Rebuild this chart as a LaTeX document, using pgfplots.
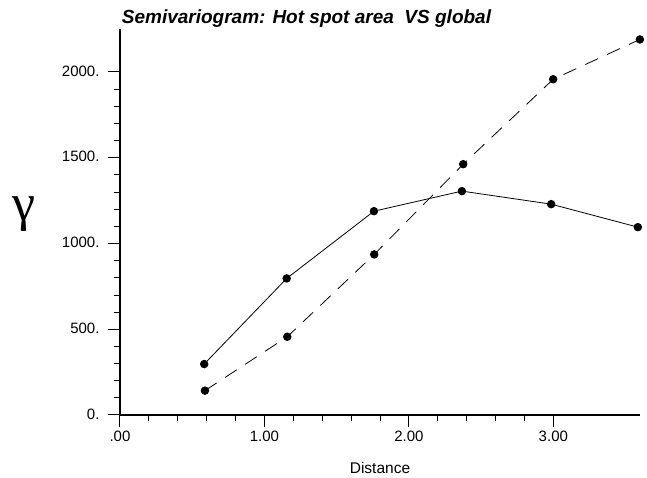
\documentclass[border=0pt]{standalone}
\usepackage{fontspec}
\setmainfont{Liberation Sans}
\newfontfamily\greekfont{Liberation Serif}
\usepackage{pgfplots}
\pgfplotsset{compat=1.18}

\begin{document}
\begin{tikzpicture}
% page frame
\path[use as bounding box] (-120pt,-63pt) rectangle (527pt,415pt);
\begin{axis}[
  at={(0pt,0pt)}, anchor=south west,
  scale only axis,
  width=520pt, height=386pt,
  xmin=0, xmax=3.6, ymin=0, ymax=2250,
  axis x line*=bottom, axis y line*=left,
  axis line style={-, line width=1.6pt},
  tick align=outside,
  major tick length=12pt, minor tick length=6pt,
  major tick style={black, line width=1pt},
  minor tick style={black, line width=0.8pt},
  xtick={0,1,2,3}, xticklabels={.00,1.00,2.00,3.00},
  minor x tick num=4,
  ytick={0,500,1000,1500,2000}, yticklabels={0.,500.,1000.,1500.,2000.},
  minor y tick num=4,
  tick label style={font=\fontsize{15}{17}\selectfont},
  xticklabel style={yshift=0pt},
  yticklabel style={xshift=-5pt, yshift=1pt},
  xlabel={Distance},
  xlabel style={font=\fontsize{15.5}{17}\selectfont, at={(axis description cs:0.5,0)}, anchor=center, yshift=-53pt},
  ylabel={\greekfont γ},
  ylabel style={font=\fontsize{52}{52}\selectfont, rotate=-90, at={(axis description cs:-0.184,0.52)}, anchor=center},
  clip=false,
]
% local (hot spot) semivariogram
\addplot[black, line width=0.8pt, mark=*, mark size=3.8pt]
  coordinates {(0.583,297) (1.154,796) (1.758,1188) (2.367,1305) (2.985,1229) (3.585,1095)};
% global semivariogram
\addplot[black, line width=0.8pt, dash pattern=on 14pt off 10pt, mark=*, mark size=3.8pt, mark options={solid}]
  coordinates {(0.588,142) (1.158,456) (1.760,936) (2.376,1462) (2.999,1957) (3.599,2189)};
\node[anchor=base west, font=\fontsize{19}{21}\selectfont\bfseries\itshape, inner sep=0pt]
  at ([xshift=1.7pt, yshift=5pt]rel axis cs:0,1) {Semivariogram: Hot spot area\ \ VS global};
\end{axis}
\end{tikzpicture}
\end{document}
